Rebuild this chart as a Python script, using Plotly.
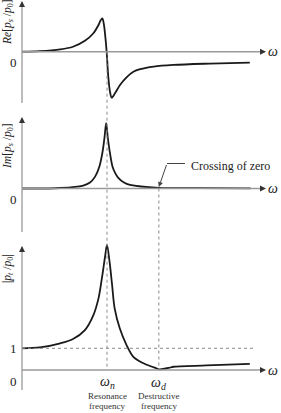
import plotly.graph_objects as go

W, H = 281, 413

# ---- data (omega in units of omega_n) ----
omega_n = 1.0
omega_d = 1.61
unity = 1.0

re_w = [0.0, 0.21, 0.45, 0.60, 0.74, 0.84, 0.90, 0.925, 0.945, 0.962, 0.976, 0.996, 1.015, 1.035, 1.055,
        1.094, 1.153, 1.23, 1.31, 1.39, 1.55, 1.78, 2.21, 2.68]
re_v = [0.0, 0.015, 0.07, 0.15, 0.33, 0.56, 0.81, 0.95, 1.01, 0.85, 0.56, 0.0, -0.76, -1.21, -1.39,
        -1.26, -1.01, -0.78, -0.61, -0.53, -0.45, -0.40, -0.36, -0.33]

im_w = [0.0, 0.45, 0.72, 0.80, 0.86, 0.91, 0.945, 0.97, 0.99, 1.01, 1.035, 1.065, 1.10, 1.13, 1.20,
        1.27, 1.61, 2.09, 2.69]
im_v = [0.0, 0.015, 0.09, 0.18, 0.36, 0.66, 1.07, 1.53, 1.98, 1.53, 1.07, 0.66, 0.45, 0.33, 0.18,
        0.11, 0.02, 0.01, 0.005]

abs_w = [0.0, 0.21, 0.45, 0.60, 0.74, 0.84, 0.90, 0.94, 0.98, 1.0, 1.03, 1.06, 1.09, 1.15,
         1.23, 1.31, 1.43, 1.58, 1.62, 1.74, 1.78, 2.17, 2.68]
abs_v = [1.0, 1.04, 1.23, 1.43, 1.84, 2.53, 3.30, 4.23, 5.30, 5.76, 4.99, 3.92, 2.84, 1.92,
         1.15, 0.61, 0.31, 0.08, 0.03, 0.11, 0.15, 0.21, 0.28]

# ---- layout constants (pixels) ----
X0_PX, X_SCALE = 22, 85
AX_END_PX = 266
PANELS = {
    "y":  dict(zero=51.7, scale=33.0, top=1, bottom=103),
    "y2": dict(zero=188.5, scale=33.0, top=117, bottom=232),
    "y3": dict(zero=370.0, scale=21.7, top=246, bottom=390),
}


def px_w(px):
    return (px - X0_PX) / X_SCALE


def px_v(ax, py):
    p = PANELS[ax]
    return (p["zero"] - py) / p["scale"]


def yrange(ax):
    return [px_v(ax, H), px_v(ax, 0)]


SERIF = "Liberation Serif, Times New Roman, serif"
CURVE = dict(color="#1a1a1a", width=1.8, shape="spline", smoothing=0.9)
AXC = "#9a9a9a"
DOT = dict(color="#8a8a8a", width=1, dash="dot")

fig = go.Figure()
fig.add_trace(go.Scatter(x=re_w, y=re_v, yaxis="y", mode="lines", line=CURVE, hoverinfo="skip"))
fig.add_trace(go.Scatter(x=im_w, y=im_v, yaxis="y2", mode="lines", line=CURVE, hoverinfo="skip"))
fig.add_trace(go.Scatter(x=abs_w, y=abs_v, yaxis="y3", mode="lines", line=CURVE, hoverinfo="skip"))

shapes = []
annotations = []

for ax, p in PANELS.items():
    # horizontal axis line
    shapes.append(dict(type="line", xref="x", yref=ax, x0=0, x1=px_w(AX_END_PX - 3), y0=0, y1=0,
                       line=dict(color=AXC, width=1.5)))
    # vertical axis line
    shapes.append(dict(type="line", xref="x", yref=ax, x0=0, x1=0,
                       y0=px_v(ax, p["bottom"]), y1=px_v(ax, p["top"] + 3),
                       line=dict(color=AXC, width=1.3)))
    # arrowheads
    annotations.append(dict(x=px_w(AX_END_PX), y=0, ax=px_w(AX_END_PX - 6), ay=0,
                            xref="x", yref=ax, axref="x", ayref=ax, text="", showarrow=True,
                            arrowhead=2, arrowsize=1, arrowwidth=1.2, arrowcolor="#333"))
    annotations.append(dict(x=0, y=px_v(ax, p["top"]), ax=0, ay=px_v(ax, p["top"] + 6),
                            xref="x", yref=ax, axref="x", ayref=ax, text="", showarrow=True,
                            arrowhead=2, arrowsize=1, arrowwidth=1.2, arrowcolor="#333"))
    # omega label
    annotations.append(dict(x=px_w(273), y=0, xref="x", yref=ax, text="<i>ω</i>", showarrow=False,
                            font=dict(family=SERIF, size=14, color="#222"), xanchor="center", yanchor="middle"))
    # zero label
    annotations.append(dict(x=px_w(13), y=px_v(ax, p["zero"] + 11), xref="x", yref=ax, text="0",
                            showarrow=False, font=dict(family=SERIF, size=13, color="#222"),
                            xanchor="center", yanchor="middle"))

# unity label & dotted line in |p| panel
annotations.append(dict(x=px_w(13), y=unity, xref="x", yref="y3", text="1", showarrow=False,
                        font=dict(family=SERIF, size=13, color="#222"), xanchor="center", yanchor="middle"))
shapes.append(dict(type="line", xref="x", yref="y3", x0=0, x1=px_w(255), y0=unity, y1=unity, line=DOT))


# vertical dotted lines (omega_n from Re panel, omega_d from Im panel), in paper coords
def paper(ax, v):
    p = PANELS[ax]
    return 1 - (p["zero"] - v * p["scale"]) / H


shapes.append(dict(type="line", xref="x", yref="paper", x0=omega_n, x1=omega_n,
                   y0=paper("y", 0), y1=paper("y3", 0), line=DOT))
shapes.append(dict(type="line", xref="x", yref="paper", x0=omega_d, x1=omega_d,
                   y0=paper("y2", 0), y1=paper("y3", 0), line=DOT))

# y-axis titles
ylabels = {
    "y": ("<i>Re</i>[<i>p<sub>s</sub></i> /<i>p</i><sub>0</sub>]", 22),
    "y2": ("<i>Im</i>[<i>p<sub>s</sub></i> /<i>p</i><sub>0</sub>]", 146),
    "y3": ("|<i>p<sub>t</sub></i> /<i>p</i><sub>0</sub>|", 269),
}
for ax, (txt, py) in ylabels.items():
    annotations.append(dict(x=px_w(8), y=1 - py / H, xref="x", yref="paper", text=txt, textangle=-90,
                            showarrow=False, font=dict(family=SERIF, size=11.5, color="#222"),
                            xanchor="center", yanchor="middle"))

# frequency labels
annotations += [
    dict(x=omega_n, y=1 - 382 / H, xref="x", yref="paper", text="<i>ω<sub>n</sub></i>", showarrow=False,
         font=dict(family=SERIF, size=14, color="#222"), yanchor="middle"),
    dict(x=omega_d, y=1 - 383 / H, xref="x", yref="paper", text="<i>ω<sub>d</sub></i>", showarrow=False,
         font=dict(family=SERIF, size=14, color="#222"), yanchor="middle"),
    dict(x=omega_n, y=1 - 396 / H, xref="x", yref="paper", text="Resonance", showarrow=False,
         font=dict(family=SERIF, size=9, color="#333"), yanchor="middle"),
    dict(x=omega_n, y=1 - 406 / H, xref="x", yref="paper", text="frequency", showarrow=False,
         font=dict(family=SERIF, size=9, color="#333"), yanchor="middle"),
    dict(x=omega_d, y=1 - 396 / H, xref="x", yref="paper", text="Destructive", showarrow=False,
         font=dict(family=SERIF, size=9, color="#333"), yanchor="middle"),
    dict(x=omega_d, y=1 - 406 / H, xref="x", yref="paper", text="frequency", showarrow=False,
         font=dict(family=SERIF, size=9, color="#333"), yanchor="middle"),
]

# crossing-of-zero callout
annotations.append(dict(x=px_w(189), y=px_v("y2", 166), xref="x", yref="y2", text="Crossing of zero",
                        showarrow=False, xanchor="left", yanchor="middle",
                        font=dict(family=SERIF, size=12, color="#222")))
shapes.append(dict(type="line", xref="x", yref="y2", x0=px_w(167), x1=px_w(185),
                   y0=px_v("y2", 163.5), y1=px_v("y2", 163.5), line=dict(color="#444", width=1)))
annotations.append(dict(x=omega_d, y=px_v("y2", 187), ax=px_w(167), ay=px_v("y2", 163.5),
                        xref="x", yref="y2", axref="x", ayref="y2", text="", showarrow=True,
                        arrowhead=2, arrowsize=1, arrowwidth=1, arrowcolor="#444"))

hidden = dict(visible=False, showgrid=False, zeroline=False, fixedrange=True)
fig.update_layout(
    width=W, height=H, margin=dict(l=0, r=0, t=0, b=0),
    paper_bgcolor="white", plot_bgcolor="white", showlegend=False,
    xaxis=dict(range=[px_w(0), px_w(W)], **hidden),
    yaxis=dict(range=yrange("y"), **hidden),
    yaxis2=dict(range=yrange("y2"), overlaying="y", **hidden),
    yaxis3=dict(range=yrange("y3"), overlaying="y", **hidden),
    shapes=shapes, annotations=annotations,
)

fig.write_html("out.html")
